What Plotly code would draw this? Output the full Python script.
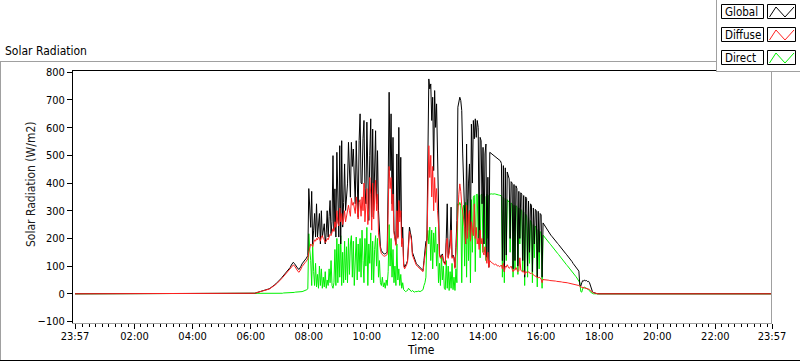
import pandas as pd
import plotly.graph_objects as go

# ---------------- data ----------------
DAY = "2020-01-02"
DAY_START = "06:00"      # first daytime sample
STEP_MIN = 2             # sampling step of daytime records (minutes)
NIGHT_VALUE = 0

global_rad = [
    0, 0, 0, 1, 2, 3, 4, 5, 6, 8,
    9, 10, 11, 11, 12, 13, 13, 14, 16, 18,
    20, 22, 24, 27, 30, 33, 36, 39, 42, 46,
    50, 54, 58, 62, 66, 70, 74, 78, 82, 86,
    92, 96, 104, 110, 114, 110, 104, 98, 94, 90,
    88, 92, 100, 108, 114, 118, 122, 126, 132, 138,
    380, 300, 240, 370, 180, 230, 290, 205, 325, 205,
    260, 290, 180, 300, 205, 240, 253, 180, 220, 300,
    205, 280, 337, 217, 260, 499, 229, 379, 205, 511,
    300, 205, 535, 180, 553, 241, 330, 469, 301, 360,
    397, 547, 420, 349, 547, 460, 523, 400, 325, 553,
    330, 277, 553, 650, 400, 397, 560, 626, 380, 325,
    620, 400, 265, 500, 632, 277, 595, 301, 450, 589,
    325, 517, 300, 229, 170, 156, 150, 146, 144, 144,
    148, 150, 400, 728, 445, 650, 325, 565, 229, 205,
    180, 505, 205, 601, 277, 493, 180, 241, 110, 96,
    102, 110, 120, 200, 241, 220, 205, 150, 138, 125,
    114, 110, 106, 102, 98, 95, 90, 87, 84, 120,
    156, 190, 193, 500, 776, 740, 758, 626, 710, 445,
    734, 601, 686, 505, 300, 144, 132, 140, 144, 120,
    115, 108, 200, 325, 132, 156, 200, 313, 132, 140,
    132, 96, 168, 265, 674, 700, 710, 698, 662, 505,
    385, 250, 180, 541, 229, 400, 469, 205, 613, 400,
    626, 560, 632, 565, 626, 601, 180, 565, 553, 325,
    529, 180, 505, 541, 132, 421, 96, 511, 508, 505,
    503, 500, 498, 495, 492, 490, 487, 484, 480, 470,
    120, 463, 80, 455, 140, 440, 420, 415, 200, 405,
    400, 90, 395, 120, 390, 380, 100, 370, 200, 365,
    360, 120, 355, 60, 350, 345, 100, 335, 150, 325,
    320, 80, 310, 180, 305, 300, 60, 298, 150, 290,
    285, 60, 256, 250, 245, 239, 233, 228, 222, 216,
    212, 208, 203, 199, 195, 190, 186, 182, 178, 173,
    169, 164, 160, 156, 152, 147, 143, 139, 134, 130,
    126, 121, 116, 110, 105, 100, 95, 90, 86, 82,
    30, 28, 40, 48, 46, 50, 47, 48, 44, 45,
    40, 28, 15, 8, 5, 3, 2, 1, 0, 0,
]

diffuse_rad = [
    0, 0, 0, 1, 2, 3, 4, 5, 6, 7,
    8, 9, 10, 10, 11, 12, 12, 13, 15, 17,
    19, 21, 23, 25, 28, 31, 34, 37, 40, 44,
    48, 51, 55, 59, 63, 66, 70, 74, 78, 82,
    86, 90, 96, 100, 104, 102, 96, 90, 84, 80,
    78, 82, 90, 98, 104, 108, 112, 116, 120, 126,
    150, 170, 180, 175, 170, 185, 195, 190, 200, 195,
    205, 200, 190, 205, 210, 200, 195, 185, 190, 200,
    195, 205, 215, 210, 220, 235, 225, 260, 240, 300,
    255, 245, 310, 260, 290, 250, 270, 300, 260, 280,
    290, 320, 300, 280, 345, 320, 330, 310, 290, 350,
    300, 270, 330, 340, 280, 350, 300, 400, 260, 330,
    380, 250, 310, 420, 360, 230, 400, 270, 350, 410,
    300, 360, 220, 180, 160, 145, 140, 138, 136, 136,
    140, 142, 300, 460, 380, 420, 300, 360, 220, 190,
    175, 300, 200, 337, 260, 300, 170, 200, 100, 90,
    96, 104, 114, 190, 225, 210, 195, 140, 130, 118,
    108, 104, 100, 96, 92, 90, 86, 82, 80, 110,
    145, 180, 190, 350, 535, 420, 500, 350, 460, 300,
    420, 330, 380, 300, 250, 140, 128, 135, 140, 115,
    110, 105, 180, 200, 128, 150, 170, 230, 128, 135,
    128, 92, 160, 240, 330, 360, 397, 370, 320, 300,
    270, 240, 180, 320, 200, 280, 300, 190, 260, 230,
    210, 325, 200, 240, 180, 200, 160, 230, 180, 200,
    150, 140, 170, 130, 110, 150, 95, 120, 115, 112,
    110, 108, 105, 108, 104, 100, 102, 98, 100, 104,
    90, 110, 80, 100, 96, 105, 98, 92, 95, 100,
    90, 80, 88, 85, 95, 88, 80, 84, 130, 86,
    82, 78, 84, 70, 80, 78, 76, 80, 74, 72,
    76, 70, 68, 66, 64, 62, 60, 58, 60, 56,
    54, 40, 52, 51, 51, 50, 50, 49, 49, 48,
    48, 47, 47, 46, 46, 46, 45, 45, 44, 44,
    43, 43, 42, 42, 41, 41, 40, 40, 39, 38,
    38, 37, 37, 36, 35, 34, 33, 32, 31, 30,
    26, 25, 24, 24, 23, 22, 22, 21, 20, 18,
    16, 12, 8, 6, 4, 3, 2, 1, 0, 0,
]

direct_rad = [
    0, 0, 0, 0, 0, 0, 0, 0, 0, 0,
    0, 0, 0, 0, 0, 0, 0, 0, 0, 0,
    0, 0, 0, 0, 0, 0, 0, 1, 1, 1,
    2, 2, 2, 2, 3, 3, 3, 3, 3, 4,
    4, 4, 5, 5, 5, 5, 6, 6, 6, 6,
    6, 7, 7, 8, 9, 10, 12, 13, 15, 18,
    217, 160, 120, 30, 180, 80, 30, 110, 25, 70,
    20, 100, 30, 90, 20, 60, 25, 80, 20, 50,
    30, 90, 40, 120, 30, 20, 40, 160, 30, 200,
    40, 180, 60, 210, 30, 150, 40, 190, 50, 170,
    40, 200, 70, 180, 210, 60, 190, 30, 160, 205,
    50, 180, 80, 200, 60, 230, 120, 40, 200, 100,
    240, 30, 180, 110, 220, 50, 190, 40, 160, 210,
    100, 200, 60, 120, 40, 30, 60, 25, 40, 20,
    50, 30, 80, 250, 100, 200, 60, 160, 40, 100,
    30, 180, 50, 90, 30, 70, 20, 40, 15, 10,
    8, 10, 12, 20, 15, 10, 8, 12, 8, 6,
    8, 7, 8, 10, 9, 8, 10, 12, 15, 30,
    40, 60, 200, 229, 180, 241, 120, 230, 90, 220,
    150, 241, 100, 180, 40, 110, 30, 140, 50, 100,
    20, 15, 120, 20, 100, 12, 80, 20, 110, 15,
    60, 12, 90, 40, 325, 320, 330, 320, 40, 300,
    320, 100, 330, 60, 340, 120, 300, 40, 340, 150,
    349, 355, 80, 358, 360, 200, 355, 130, 358, 360,
    150, 361, 350, 120, 360, 200, 355, 360, 362, 361,
    360, 362, 361, 360, 358, 359, 357, 356, 355, 354,
    60, 350, 40, 345, 120, 340, 335, 330, 150, 328,
    325, 60, 320, 90, 318, 315, 70, 310, 180, 305,
    300, 80, 295, 30, 288, 282, 60, 275, 110, 265,
    258, 40, 250, 130, 245, 238, 25, 232, 90, 225,
    220, 20, 212, 207, 203, 198, 194, 190, 185, 181,
    177, 172, 168, 164, 159, 155, 150, 146, 142, 137,
    133, 128, 124, 120, 115, 111, 106, 102, 98, 93,
    89, 84, 80, 75, 71, 66, 62, 57, 52, 46,
    40, 8, 6, 20, 22, 24, 22, 20, 18, 15,
    12, 6, 3, 1, 0, 0, 0, 0, 0, 0,
]

series_names = ["Global", "Diffuse", "Direct"]
series_colors = ["#000000", "#FF2020", "#00F000"]

x_tick_text = ["23:57", "02:00", "04:00", "06:00", "08:00", "10:00", "12:00",
               "14:00", "16:00", "18:00", "20:00", "22:00", "23:57"]
y_tick_vals = [-100, 0, 100, 200, 300, 400, 500, 600, 700, 800]

# ---------------- time axis ----------------
t_first = pd.Timestamp("2020-01-01 23:57")
t_last = pd.Timestamp("2020-01-02 23:57")
day_times = pd.date_range(f"{DAY} {DAY_START}", periods=len(global_rad), freq=f"{STEP_MIN}min")
x_all = [t_first] + list(day_times) + [t_last]


def with_night(vals):
    return [NIGHT_VALUE] + list(vals) + [NIGHT_VALUE]


major_ticks = [t_first] + [pd.Timestamp(f"{DAY} {h}") for h in x_tick_text[1:-1]] + [t_last]
minor_step = pd.Timedelta(minutes=120) / 9
midnight = pd.Timestamp(f"{DAY} 00:00")
minor_ticks = [midnight + m * minor_step for m in range(1, 108) if m % 9 != 0]

# ---------------- geometry (pixels) ----------------
W, H = 800, 361
L, R, T, B = 73, 772, 70, 323


def fx(px):
    return (px - L) / (R - L)


def fy(py):
    return (B - py) / (B - T)


FONT = "DejaVu Sans Condensed, Liberation Sans, sans-serif"

fig = go.Figure()
vals_by_name = {"Global": global_rad, "Diffuse": diffuse_rad, "Direct": direct_rad}
for name in ["Direct", "Global", "Diffuse"]:
    color = series_colors[series_names.index(name)]
    fig.add_trace(go.Scatter(x=x_all, y=with_night(vals_by_name[name]), mode="lines",
                             name=name, line=dict(color=color, width=1), showlegend=False,
                             hoverinfo="skip"))

# x range: start 2px before first tick
px_per_min = (771.7 - 75) / 1440.0
x_start = t_first - pd.Timedelta(minutes=2.0 / px_per_min)

fig.update_xaxes(type="date", range=[x_start, t_last], tickmode="array",
                 tickvals=major_ticks, ticktext=x_tick_text, ticks="outside", ticklen=5,
                 tickcolor="#000000", tickwidth=1, showline=True, linecolor="#A0A0A0",
                 linewidth=1, showgrid=False, zeroline=False, ticklabelstandoff=-2,
                 tickfont=dict(family=FONT, size=11, color="#000000"),
                 minor=dict(tickmode="array", tickvals=minor_ticks, ticks="outside",
                            ticklen=3, tickcolor="#000000", tickwidth=1, showgrid=False))

y_lo = -100 - 1.5 * 900 / 249.2
y_hi = 800 + 2.3 * 900 / 249.2
fig.update_yaxes(range=[y_lo, y_hi], tickmode="array", tickvals=y_tick_vals,
                 ticks="outside", ticklen=5, tickcolor="#000000", tickwidth=1,
                 showline=True, linecolor="#000000", linewidth=1, showgrid=False,
                 zeroline=False, tickfont=dict(family=FONT, size=11, color="#000000"))

shapes = []


def hline(x0, x1, y, color):
    shapes.append(dict(type="line", xref="paper", yref="paper", x0=fx(x0), x1=fx(x1),
                       y0=fy(y), y1=fy(y), line=dict(color=color, width=1)))


def vline(x, y0, y1, color):
    shapes.append(dict(type="line", xref="paper", yref="paper", x0=fx(x), x1=fx(x),
                       y0=fy(y0), y1=fy(y1), line=dict(color=color, width=1)))


GRAY = "#A0A0A0"
hline(0, 717, 61.5, GRAY)          # outer frame top
vline(0.5, 61, 361, GRAY)          # outer frame left
hline(0, 800, 360.5, "#000000")    # outer frame bottom
hline(73, 717, 70.5, "#000000")    # plot area top
vline(771.5, 72, 323, GRAY)        # plot area right
vline(716.5, 0, 72, GRAY)          # legend panel left
hline(716.5, 800, 71.5, GRAY)      # legend panel bottom

annotations = []
legend_tops = [4, 27, 50]
for k, name in enumerate(series_names):
    top = legend_tops[k]
    shapes.append(dict(type="rect", xref="paper", yref="paper",
                       x0=fx(721.5), x1=fx(763.5), y0=fy(top + 0.5), y1=fy(top + 14.5),
                       line=dict(color="#000000", width=1), fillcolor="#FFFFFF"))
    shapes.append(dict(type="rect", xref="paper", yref="paper",
                       x0=fx(767.5), x1=fx(795.5), y0=fy(top + 0.5), y1=fy(top + 14.5),
                       line=dict(color="#000000", width=1), fillcolor="#FFFFFF"))
    pts = [(769.5, top + 13), (776, top + 3), (785, top + 13), (794, top + 3)]
    path = "M " + " L ".join(f"{fx(px):.5f},{fy(py):.5f}" for px, py in pts)
    shapes.append(dict(type="path", xref="paper", yref="paper", path=path,
                       line=dict(color=series_colors[k], width=1)))
    annotations.append(dict(text=name, xref="paper", yref="paper", x=fx(723),
                            y=fy(top + 8), xanchor="left", yanchor="middle", showarrow=False,
                            font=dict(family=FONT, size=11.5, color="#000000")))

annotations.append(dict(text="Solar Radiation", xref="paper", yref="paper", x=fx(3),
                        y=fy(51), xanchor="left", yanchor="middle", showarrow=False,
                        font=dict(family=FONT, size=12, color="#000000")))
annotations.append(dict(text="Solar Radiation (W/m2)", xref="paper", yref="paper",
                        x=fx(31), y=fy(184), xanchor="center", yanchor="middle",
                        textangle=-90, showarrow=False,
                        font=dict(family=FONT, size=12, color="#1a1a1a")))
annotations.append(dict(text="Time", xref="paper", yref="paper", x=fx(421), y=fy(350),
                        xanchor="center", yanchor="middle", showarrow=False,
                        font=dict(family=FONT, size=12, color="#000000")))

fig.update_layout(width=W, height=H, margin=dict(l=L, r=W - R, t=T, b=H - B),
                  paper_bgcolor="#FFFFFF", plot_bgcolor="#FFFFFF",
                  shapes=shapes, annotations=annotations, showlegend=False)

fig.write_html("out.html", config={"displayModeBar": False},
               post_script="document.body.style.margin='0';")
